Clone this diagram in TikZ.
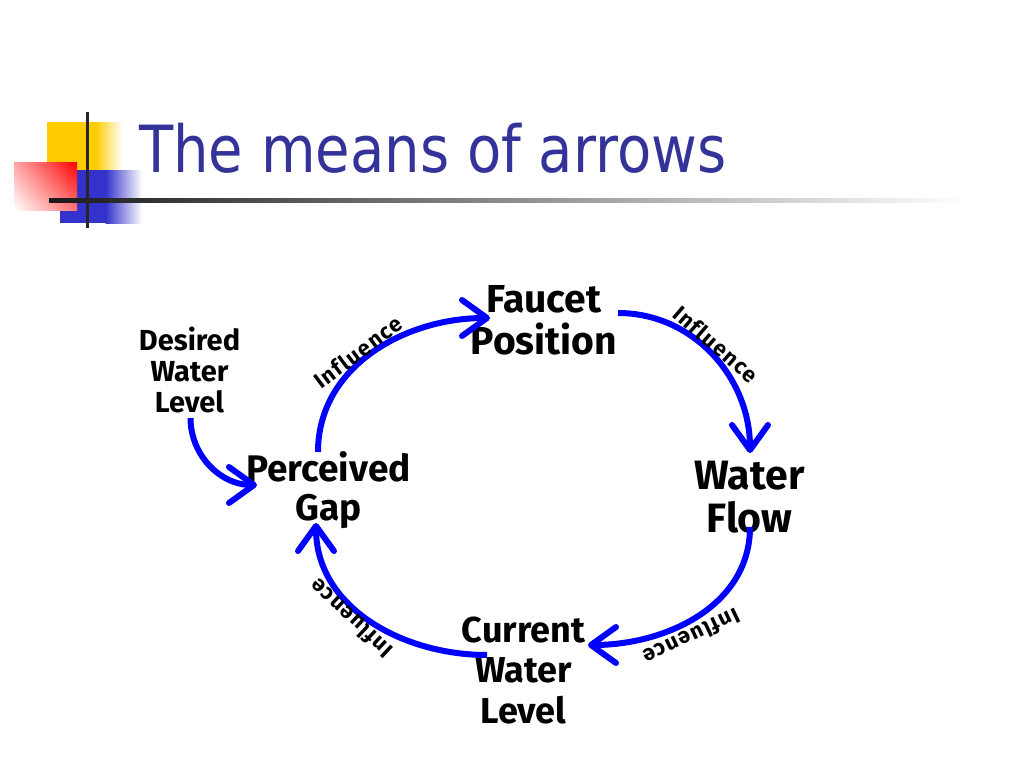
\documentclass[tikz,border=0pt]{standalone}
\usepackage{fontspec}
\setmainfont{Fira Sans}[Ligatures={NoCommon}]
\newfontfamily\titlefont{DejaVu Sans}
\newfontfamily\inflfont{Fira Sans}[Ligatures={NoCommon},LetterSpace=6]
\usetikzlibrary{arrows.meta,shadings}
\definecolor{titleblue}{RGB}{51,51,153}
\definecolor{arrowblue}{RGB}{0,0,255}
\definecolor{decoyellow}{RGB}{255,204,0}
\definecolor{decoblue}{RGB}{51,51,204}
\definecolor{decored}{RGB}{255,0,0}
\begin{document}
\begin{tikzpicture}[x=1pt,y=1pt,
  concept/.style={align=center, inner sep=0pt, font=\bfseries\fontsize{39}{42}\selectfont},
  infl/.style={inner sep=0pt, font=\inflfont\bfseries\fontsize{22}{24}\selectfont},
  flowarrow/.style={draw=arrowblue, line width=6pt, -{Straight Barb[length=25pt,width=36pt,round]}}
]
\useasboundingbox (0,0) rectangle (1024,-768);
\fill[white] (0,0) rectangle (1024,-768);
% decoration
\fill[decoyellow] (47,-122) rectangle (96,-190);
\shade[left color=decoyellow, right color=white] (95.5,-122) rectangle (122,-190);
\fill[decoblue] (60,-170) rectangle (106,-223);
\shade[left color=decoblue, right color=white] (105.5,-170) rectangle (142,-223);
\shade[upper right=decored, lower left=white, upper left=decored!35!white, lower right=decored!55!white] (14,-162) rectangle (77,-210);
\shade[left color=black!90, middle color=black!65, right color=white] (49,-198) rectangle (965,-202);
\fill[black!85] (86,-112) rectangle (89,-228);
% title
\node[anchor=base west, inner sep=0pt, text=titleblue, font=\titlefont\fontsize{65}{70}\selectfont, xscale=0.862] (title) at (139,-172) {The means of arrows};
% concepts
\node[concept] (faucet) at (544,-320) {Faucet\\Position};
\node[concept, font=\bfseries\fontsize{29}{31}\selectfont] (desired) at (189.5,-369.5) {Desired\\Water\\Level};
\node[concept, font=\bfseries\fontsize{37}{39}\selectfont] (gap) at (328.5,-490) {Perceived\\Gap};
\node[concept, font=\bfseries\fontsize{41}{43}\selectfont] (flow) at (749.5,-497.5) {Water\\Flow};
\node[concept, font=\bfseries\fontsize{36}{40.5}\selectfont] (current) at (523.5,-670.5) {Current\\Water\\Level};
% arrows
\draw[flowarrow] ([shift={(-10.5,38)}]gap.center) to[out=90,in=180] ([shift={(-54,2)}]faucet.center);
\draw[flowarrow] ([shift={(74,7)}]faucet.center) to[out=0,in=90] ([shift={(0.5,44.5)}]flow.center);
\draw[flowarrow] ([shift={(0.5,-29.5)}]flow.center) to[out=-90,in=0] ([shift={(64.5,25.5)}]current.center);
\draw[flowarrow] ([shift={(-36.5,15.5)}]current.center) to[out=180,in=-90] ([shift={(-12.5,-33)}]gap.center);
\draw[flowarrow] ([shift={(1,-48.5)}]desired.center) to[out=-90,in=180] ([shift={(-71.5,5)}]gap.center);
% labels
\node[infl, rotate=37] (lab1) at (358,-352) {Influence};
\node[infl, rotate=-41] (lab2) at (716,-344) {Influence};
\node[infl, rotate=205.5] (lab3) at (692,-637) {Influence};
\node[infl, rotate=137] (lab4) at (351,-619) {Influence};
\end{tikzpicture}
\end{document}
